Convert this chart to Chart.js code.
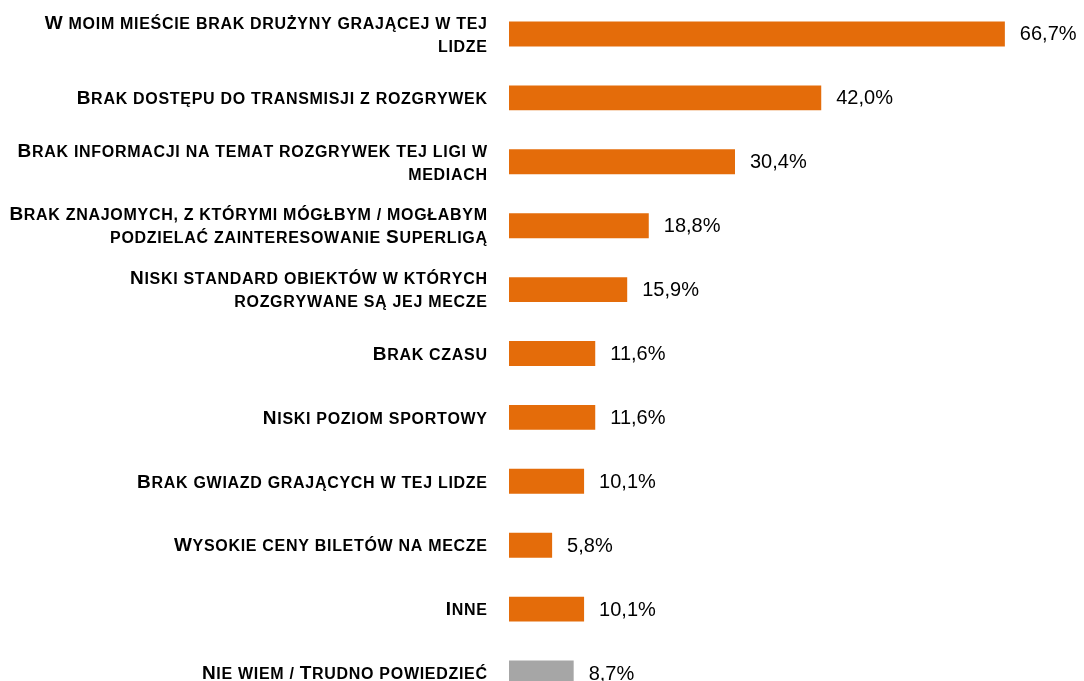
<!DOCTYPE html>
<html>
<head>
<meta charset="utf-8">
<script src="https://cdn.jsdelivr.net/npm/chart.js@4"></script>
<style>
  html, body { margin: 0; padding: 0; background: #ffffff; overflow: hidden; }
  canvas { display: block; }
</style>
</head>
<body>
<canvas id="c" width="1084" height="705"></canvas>
<script>
const categories = [
  ["W moim mieście brak drużyny grającej w tej", "lidze"],
  "Brak dostępu do transmisji z rozgrywek",
  ["Brak informacji na temat rozgrywek tej ligi w", "mediach"],
  ["Brak znajomych, z którymi mógłbym / mogłabym", "podzielać zainteresowanie Superligą"],
  ["Niski standard obiektów w których", "rozgrywane są jej mecze"],
  "Brak czasu",
  "Niski poziom sportowy",
  "Brak gwiazd grających w tej lidze",
  "Wysokie ceny biletów na mecze",
  "Inne",
  "Nie wiem / Trudno powiedzieć"
];
const values = [66.7, 42.0, 30.4, 18.8, 15.9, 11.6, 11.6, 10.1, 5.8, 10.1, 8.7];
const barColors = ["#E46C0A","#E46C0A","#E46C0A","#E46C0A","#E46C0A","#E46C0A","#E46C0A","#E46C0A","#E46C0A","#E46C0A","#A6A6A6"];
const xMax = 76;

const FAMILY = "'Liberation Sans', Arial, sans-serif";
const BIG = 19, SMALL = 16, SPACING = 0.7, LINE_H = 23, LABEL_RIGHT = 487;

function drawSmallCaps(ctx, text, xRight, baseline) {
  const chars = Array.from(text);
  const items = chars.map(ch => {
    const isUpper = ch !== ch.toLowerCase();
    const size = isUpper ? BIG : SMALL;
    const glyph = ch.toUpperCase();
    ctx.font = 'bold ' + size + 'px ' + FAMILY;
    return { glyph, size, w: ctx.measureText(glyph).width };
  });
  let total = items.reduce((s, it) => s + it.w, 0) + SPACING * (items.length - 1);
  let x = xRight - total;
  items.forEach(it => {
    ctx.font = 'bold ' + it.size + 'px ' + FAMILY;
    ctx.fillText(it.glyph, x, baseline);
    x += it.w + SPACING;
  });
}

const categoryLabels = {
  id: 'categoryLabels',
  afterDraw(chart) {
    const ctx = chart.ctx;
    const yScale = chart.scales.y;
    ctx.save();
    ctx.fillStyle = '#000000';
    ctx.textAlign = 'left';
    ctx.textBaseline = 'alphabetic';
    categories.forEach((lab, i) => {
      const lines = Array.isArray(lab) ? lab : [lab];
      const cy = yScale.getPixelForTick(i);
      const off = SMALL * 0.716 / 2 + 0.5;
      const start = cy - (lines.length - 1) * LINE_H / 2;
      lines.forEach((ln, j) => {
        drawSmallCaps(ctx, ln, LABEL_RIGHT, start + j * LINE_H + off);
      });
    });
    ctx.restore();
  }
};

const valueLabels = {
  id: 'valueLabels',
  afterDatasetsDraw(chart) {
    const ctx = chart.ctx;
    const meta = chart.getDatasetMeta(0);
    ctx.save();
    ctx.font = "20px " + FAMILY;
    ctx.fillStyle = '#000000';
    ctx.textAlign = 'left';
    ctx.textBaseline = 'middle';
    meta.data.forEach((bar, i) => {
      const txt = values[i].toFixed(1).replace('.', ',') + '%';
      ctx.fillText(txt, bar.x + 15, bar.y + 1);
    });
    ctx.restore();
  }
};

new Chart(document.getElementById('c'), {
  type: 'bar',
  data: {
    labels: categories,
    datasets: [{
      data: values,
      backgroundColor: barColors,
      borderWidth: 0,
      barPercentage: 0.39,
      categoryPercentage: 1.0
    }]
  },
  options: {
    indexAxis: 'y',
    responsive: false,
    maintainAspectRatio: false,
    animation: false,
    layout: { padding: { top: 2, bottom: 0, left: 0, right: 10 } },
    plugins: { legend: { display: false }, tooltip: { enabled: false } },
    scales: {
      x: {
        min: 0, max: xMax,
        display: false,
        grid: { display: false }
      },
      y: {
        grid: { display: false },
        border: { display: false },
        ticks: { display: false },
        afterFit(scale) { scale.width = 509; scale.paddingTop = 0; scale.paddingBottom = 0; }
      }
    }
  },
  plugins: [valueLabels, categoryLabels]
});
</script>
</body>
</html>
